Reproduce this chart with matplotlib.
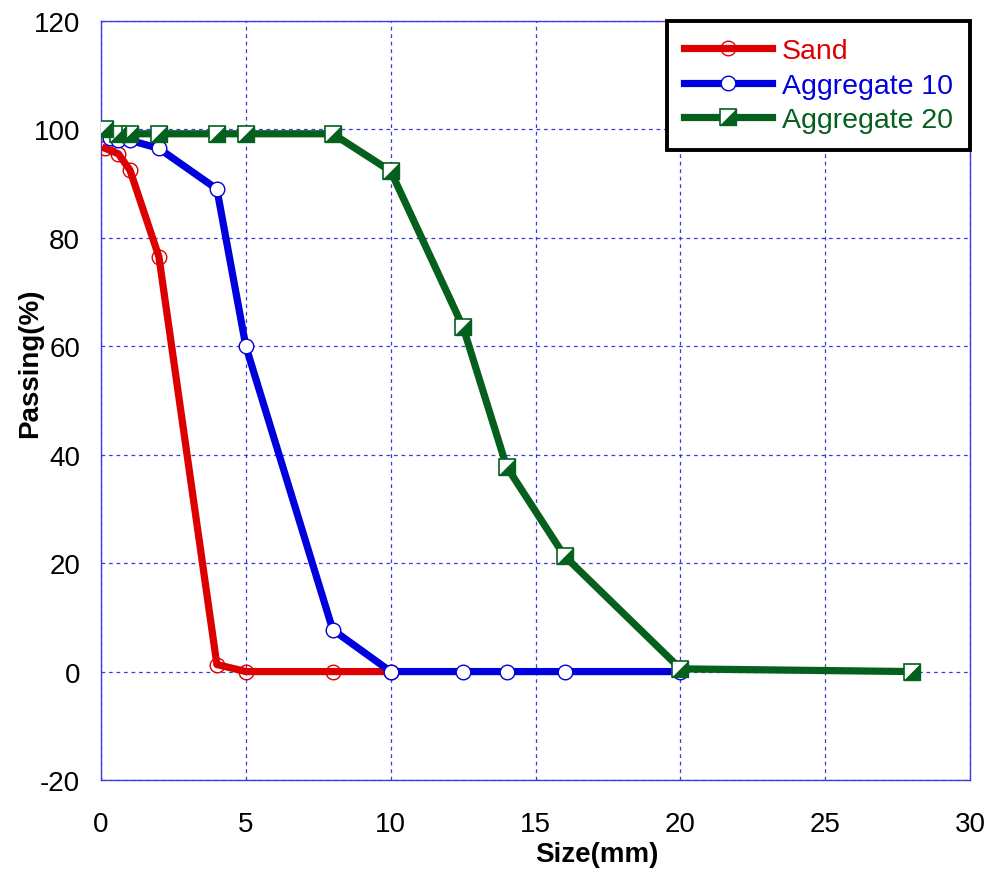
import matplotlib
matplotlib.use("Agg")
import matplotlib.pyplot as plt
from matplotlib.legend_handler import HandlerTuple

plt.rcParams['font.family'] = ['Liberation Sans', 'DejaVu Sans']
plt.rcParams['axes.unicode_minus'] = False

sand_x = [0.15, 0.6, 1, 2, 4, 5, 8, 10]
sand_y = [96.5, 95.5, 92.5, 76.5, 1.3, 0, 0, 0]

agg10_x = [0.3, 0.6, 1, 2, 4, 5, 8, 10, 12.5, 14, 16, 20]
agg10_y = [98.5, 98, 98, 96.5, 89, 60, 7.7, 0, 0, 0, 0, 0]

agg20_x = [0.15, 0.6, 1, 2, 4, 5, 8, 10, 12.5, 14, 16, 20, 28]
agg20_y = [100, 99.2, 99.2, 99.2, 99.2, 99.2, 99.2, 92.3, 63.5, 37.8, 21.3, 0.5, 0]

xticks = [0, 5, 10, 15, 20, 25, 30]
yticks = [-20, 0, 20, 40, 60, 80, 100, 120]

RED = '#dd0000'
BLUE = '#0000dd'
GREEN = '#05601e'
GRID = '#3a3ae0'

fig = plt.figure(figsize=(9.9, 8.7), dpi=100)
ax = fig.add_axes([0.102, 0.1023, 0.878, 0.8724])

LW = 5.2
l1, = ax.plot(sand_x, sand_y, color=RED, lw=LW, marker='o', ms=10.5,
              mfc='none', mec=RED, mew=1.0, zorder=3, label='Sand')
l2, = ax.plot(agg10_x, agg10_y, color=BLUE, lw=LW, marker='o', ms=10.5,
              mfc='white', mec=BLUE, mew=1.0, zorder=4, label='Aggregate 10')
l3, = ax.plot(agg20_x, agg20_y, color=GREEN, lw=LW, marker='s', ms=12,
              mfc='white', mec=GREEN, mew=1.2, zorder=5)
tri = [(-1, -1), (1, -1), (1, 1), (-1, -1)]
l3b, = ax.plot(agg20_x, agg20_y, ls='none', marker=tri, ms=12,
               mfc=GREEN, mec=GREEN, mew=0.5, zorder=6)

ax.set_xlim(0, 30)
ax.set_ylim(-20, 120)
ax.set_xticks(xticks)
ax.set_yticks(yticks)
ax.tick_params(axis='both', labelsize=20, direction='in', length=0)
ax.tick_params(axis='x', pad=22)
ax.tick_params(axis='y', pad=15)
ax.grid(True, color=GRID, ls=(0, (3, 3)), lw=0.9)
for s in ax.spines.values():
    s.set_color(GRID)
    s.set_linewidth(1.0)

ax.set_xlabel('Size(mm)', fontsize=20, fontweight='bold')
ax.set_ylabel('Passing(%)', fontsize=20, fontweight='bold')
ax.xaxis.set_label_coords(0.57, -0.081)
ax.yaxis.set_label_coords(-0.067, 0.55)

leg = ax.legend([l1, l2, (l3, l3b)], ['Sand', 'Aggregate 10', 'Aggregate 20'],
                handler_map={tuple: HandlerTuple(ndivide=1)},
                loc='upper right', bbox_to_anchor=(1.0, 1.0),
                prop={'size': 20.5}, fancybox=False, framealpha=1, edgecolor='black',
                handlelength=3.1, handletextpad=0.35, labelspacing=0.3,
                borderpad=0.6, borderaxespad=0.0, markerscale=1.0)
leg.get_frame().set_linewidth(2.8)
for t, c in zip(leg.get_texts(), [RED, BLUE, GREEN]):
    t.set_color(c)

fig.savefig('out.png', dpi=100)
